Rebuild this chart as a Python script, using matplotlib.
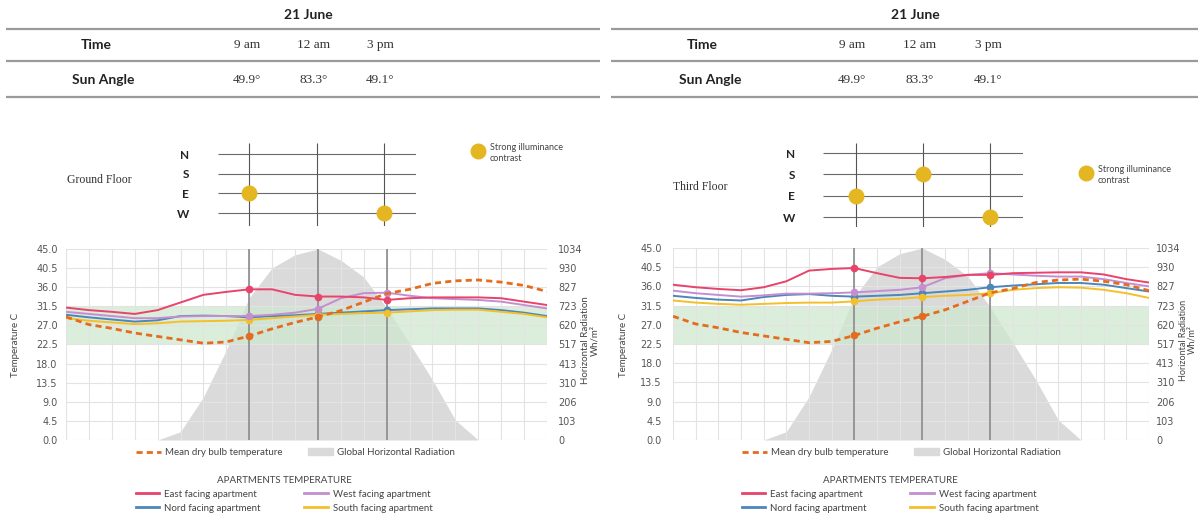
import matplotlib
matplotlib.use('Agg')
import matplotlib.pyplot as plt
from matplotlib.lines import Line2D
from matplotlib.patches import Patch
import numpy as np

W, H = 1198, 521

# godziny 1..22 (co godzine pionowa linia siatki)
hours = list(range(1, 23))
sun_times = [9, 12, 15]
time_labels = ['9 am', '12 am', '3 pm']
sun_angles = ['49.9°', '83.3°', '49.1°']

# promieniowanie Wh/m2
radiation = [0, 0, 0, 0, 0, 45, 233, 487, 770, 932, 1003, 1034,
             973, 882, 715, 523, 325, 108, 0, 0, 0, 0]
# temperatura zewnetrzna
dry_bulb = [29.0, 27.2, 26.3, 25.2, 24.4, 23.6, 22.8, 23.1, 24.5, 26.2, 27.7,
            29.0, 30.5, 32.5, 34.5, 35.5, 36.9, 37.5, 37.7, 37.2, 36.4, 35.0]

# parter
east_ground = [31.2, 30.6, 30.2, 29.7, 30.6, 32.4, 34.2, 34.9, 35.5, 35.5, 34.2,
               33.8, 33.8, 33.6, 33.0, 33.4, 33.6, 33.6, 33.6, 33.4, 32.6, 31.8]
west_ground = [30.2, 29.7, 29.2, 28.7, 28.7, 29.1, 29.2, 29.2, 29.2, 29.5, 30.0,
               30.9, 33.4, 34.6, 34.7, 34.0, 33.4, 33.2, 33.0, 32.6, 31.8, 31.0]
nord_ground = [29.5, 28.9, 28.4, 27.9, 28.2, 29.2, 29.3, 29.2, 28.9, 29.2, 29.4,
               29.7, 30.0, 30.3, 30.6, 30.8, 31.0, 31.0, 31.0, 30.6, 30.0, 29.2]
south_ground = [28.7, 28.1, 27.7, 27.3, 27.5, 27.9, 28.0, 28.1, 28.3, 28.7, 29.1,
                29.5, 29.7, 29.9, 30.0, 30.3, 30.6, 30.7, 30.7, 30.2, 29.7, 28.9]

# trzecie pietro
east_third = [36.4, 35.8, 35.4, 35.1, 35.8, 37.2, 39.7, 40.1, 40.3, 39.1, 38.0,
              37.9, 38.2, 38.7, 38.7, 39.1, 39.2, 39.3, 39.3, 38.8, 37.7, 36.9]
west_third = [35.0, 34.4, 34.0, 33.6, 33.9, 34.3, 34.3, 34.4, 34.6, 34.9, 35.2,
              35.8, 37.9, 38.7, 39.1, 38.8, 38.5, 38.3, 38.3, 37.7, 36.8, 36.0]
nord_third = [33.8, 33.3, 32.9, 32.7, 33.5, 34.0, 34.2, 33.8, 33.6, 33.8, 34.0,
              34.4, 34.8, 35.2, 35.8, 36.2, 36.5, 36.8, 36.8, 36.4, 35.6, 34.8]
south_third = [32.7, 32.2, 31.9, 31.7, 31.9, 32.1, 32.2, 32.2, 32.5, 32.9, 33.1,
               33.5, 33.8, 34.0, 34.4, 35.2, 35.6, 35.8, 35.7, 35.2, 34.4, 33.3]

# kontrast oswietlenia
sides = ['N', 'S', 'E', 'W']
ground_hit_times = [9, 15]
ground_hit_sides = ['E', 'W']
third_hit_times = [9, 12, 15]
third_hit_sides = ['E', 'S', 'W']

temp_ticks = np.arange(0, 45.1, 4.5)
rad_ticks = [0, 103, 206, 310, 413, 517, 620, 723, 827, 930, 1034]
comfort_low, comfort_high = 22.3, 31.4

RED = '#e8436b'
PINK = '#c48ed0'
BLUE = '#4d86b8'
YELLOW = '#f3c02b'
ORANGE = '#e36c1f'
GOLD = '#e3b622'
GRAY_FILL = '#dadada'
GREEN = '#cfe8cf'
SANS = 'Lato'
SERIF = 'Liberation Serif'

fig = plt.figure(figsize=(W / 100, H / 100), dpi=100)
over = fig.add_axes([0, 0, 1, 1])
over.set_xlim(0, W)
over.set_ylim(H, 0)
over.axis('off')


def box(x0, y0, x1, y1):
    return [x0 / W, 1 - y1 / H, (x1 - x0) / W, (y1 - y0) / H]


def draw_panel(L, floor_name, east, west, nord, south, hit_times, hit_sides):
    # tabela na gorze
    over.hlines([29, 61, 97], L['t0'], L['t1'], color='#9a9a9a', lw=1.6)
    over.text(L['title'], 15, '21 June', ha='center', va='center', fontsize=10,
              fontweight='bold', family=SANS, color='#222')
    over.text(L['time'], 45, 'Time', ha='center', va='center', fontsize=10,
              fontweight='bold', family=SANS, color='#222')
    over.text(L['sun'], 80, 'Sun Angle', ha='center', va='center', fontsize=10,
              fontweight='bold', family=SANS, color='#222')
    for x, t, a in zip(L['cols'], time_labels, sun_angles):
        over.text(x, 45, t, ha='center', va='center', fontsize=9.5, family=SERIF, color='#333')
        over.text(x, 80, a, ha='center', va='center', fontsize=9.5, family=SERIF, color='#333')

    # schemat N S E W
    x0, y0, x1, y1 = L['comp']
    cx = fig.add_axes(box(x0, y0, x1, y1))
    k = (L['x15'] - L['x9']) / 6
    cx.set_xlim(9 - (L['x9'] - x0) / k, 15 + (x1 - L['x15']) / k)
    r = (L['yW'] - L['yN']) / 3
    cx.set_ylim(3 + (y1 - L['yW']) / r, -(L['yN'] - y0) / r)
    cx.hlines(range(4), *cx.get_xlim(), color='#6a6a6a', lw=0.8)
    cx.vlines(sun_times, *cx.get_ylim(), color='#555', lw=0.8)
    cx.scatter(hit_times, [sides.index(s) for s in hit_sides], s=110, color=GOLD,
               zorder=3, clip_on=False)
    cx.set_xticks([])
    cx.set_yticks(range(4))
    cx.set_yticklabels(sides, fontweight='bold', fontsize=8.5, family=SANS, color='#222')
    cx.tick_params(length=0, pad=L['cpad'])
    for s in cx.spines.values():
        s.set_visible(False)
    cx.patch.set_visible(False)

    over.scatter([L['dot'][0]], [L['dot'][1]], s=110, color=GOLD)
    over.text(L['dot'][0] + 12, L['dot'][1] - 8, 'Strong illuminance\ncontrast', ha='left',
              va='top', fontsize=6.5, family=SANS, color='#444', linespacing=1.3)
    over.text(L['floor'][0], L['floor'][1], floor_name, ha='left', va='center',
              fontsize=8.5, family=SERIF, color='#333')

    # wykres glowny
    ax = fig.add_axes(box(*L['chart']))
    ax2 = ax.twinx()
    ax2.fill_between(hours, radiation, color=GRAY_FILL, lw=0)
    ax2.set_ylim(0, 1034)
    ax2.set_yticks(rad_ticks)
    ax.set_zorder(ax2.get_zorder() + 1)
    ax.patch.set_visible(False)

    ax.set_xlim(1, 22)
    ax.set_ylim(0, 45)
    ax.set_xticks(hours)
    ax.set_xticklabels([])
    ax.set_yticks(temp_ticks)
    ax.set_yticklabels([f'{v:.1f}' for v in temp_ticks])
    ax.set_axisbelow(True)
    ax.grid(color='#e3e3e3', lw=0.8)
    ax.axhspan(comfort_low, comfort_high, color=GREEN, alpha=0.75, lw=0, zorder=0.3)
    for t in sun_times:
        ax.axvline(t, color='#8a8a8a', lw=1.2, zorder=1)

    marks = [hours.index(t) for t in sun_times]
    for vals, c in ((nord, BLUE), (south, YELLOW), (west, PINK), (east, RED)):
        ax.plot(hours, vals, color=c, lw=1.4, marker='o', ms=4.5, markevery=marks, zorder=3)
    ax.plot(hours, dry_bulb, color=ORANGE, lw=2, ls=(0, (2.2, 1.5)), marker='o', ms=4.5,
            markevery=marks[:2], zorder=4)

    for a in (ax, ax2):
        a.tick_params(length=0, labelsize=7, labelcolor='#555')
        for s in a.spines.values():
            s.set_visible(False)
    ax.tick_params(pad=L['lpad'])
    ax2.tick_params(pad=L['rpad'])

    over.text(L['ylab'], 345, 'Temperature C', rotation=90, ha='center', va='center',
              fontsize=7, family=SANS, color='#444')
    over.text(L['rlab'], 340, 'Horizontal Radiation', rotation=90, ha='center', va='center',
              fontsize=L['rfs'], family=SANS, color='#444')
    over.text(L['rlab'] + L['rgap'], 340, 'Wh/m²', rotation=90, ha='center', va='center',
              fontsize=L['rfs'], family=SANS, color='#444')

    # legendy
    h1 = [Line2D([], [], color=ORANGE, lw=2, ls=(0, (2.2, 1.5))), Patch(color=GRAY_FILL)]
    fig.legend(h1, ['Mean dry bulb temperature', 'Global Horizontal Radiation'],
               ncol=2, loc='upper left', bbox_to_anchor=(L['leg'] / W, 1 - 448 / H),
               frameon=False, handlelength=2.6, handletextpad=0.4,
               columnspacing=2.6, borderaxespad=0, borderpad=0,
               prop={'family': SANS, 'size': 7}, labelcolor='#444')
    h2 = [Line2D([], [], color=c, lw=2) for c in (RED, BLUE, PINK, YELLOW)]
    leg2 = fig.legend(h2, ['East facing apartment', 'Nord facing apartment',
                           'West facing apartment', 'South facing apartment'],
                      ncol=2, title='APARTMENTS TEMPERATURE', loc='upper left',
                      bbox_to_anchor=(L['leg'] / W, 1 - 476 / H), frameon=False,
                      handlelength=2.4, handletextpad=0.5, columnspacing=4.5,
                      labelspacing=0.5, borderaxespad=0, borderpad=0,
                      prop={'family': SANS, 'size': 7}, labelcolor='#444',
                      title_fontproperties={'family': SANS, 'size': 7})
    leg2.get_title().set_color('#444')


left = dict(t0=6, t1=600, title=308, time=96, sun=103, cols=[247, 314, 380],
            comp=(218, 143, 416, 226), x9=249, x15=384, yN=154, yW=213, cpad=21,
            dot=(478, 151), floor=(67, 180), chart=(66, 249, 547, 440),
            lpad=6, rpad=8, ylab=15, rlab=585, rgap=10, rfs=7, leg=136)
right = dict(t0=611, t1=1198, title=915, time=702, sun=710, cols=[852, 920, 988],
             comp=(823, 143, 1023, 227), x9=856, x15=990, yN=153, yW=217, cpad=20,
             dot=(1086, 173), floor=(673, 187), chart=(673, 248, 1149, 440),
             lpad=8, rpad=5, ylab=623, rlab=1183, rgap=8.5, rfs=6.5, leg=742)

draw_panel(left, 'Ground Floor', east_ground, west_ground, nord_ground, south_ground,
           ground_hit_times, ground_hit_sides)
draw_panel(right, 'Third Floor', east_third, west_third, nord_third, south_third,
           third_hit_times, third_hit_sides)

fig.savefig('out.png', dpi=100)
